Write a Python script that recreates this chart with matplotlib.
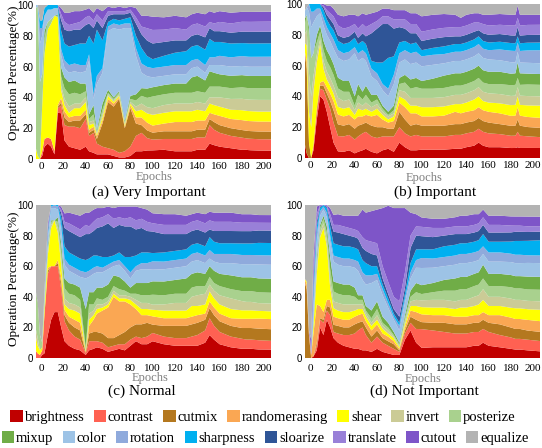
import numpy as np
import matplotlib
matplotlib.use('Agg')
import matplotlib.pyplot as plt
from matplotlib.patches import Patch
from matplotlib.font_manager import FontProperties

SERIF = 'Liberation Serif'
SANS = 'Liberation Sans'

epochs = [-5, -3, -1, 1, 3, 6, 9, 12, 15, 18,
          21, 25, 30, 35, 40, 43, 47, 50, 55, 60,
          65, 70, 75, 80, 85, 90, 95, 100, 110, 120,
          130, 135, 140, 147, 151, 155, 160, 170, 180, 184,
          186, 188, 195, 207]

ops = ['brightness', 'contrast', 'cutmix', 'randomerasing', 'shear', 'invert', 'posterize',
       'mixup', 'color', 'rotation', 'sharpness', 'sloarize', 'translate', 'cutout', 'equalize']
colors = ['#C00000', '#FF6152', '#B4781F', '#FAA753', '#FFFF00', '#CBCB96', '#A9D18E',
          '#70AD47', '#9DC3E6', '#8FAADC', '#00B0F0', '#2F5597', '#9980D8', '#7E55C8', '#B3B3B3']

x_ticks = [0, 20, 40, 60, 80, 100, 120, 140, 160, 180, 200]
y_ticks = [0, 20, 40, 60, 80, 100]
titles = ['(a) Very Important', '(b) Important', '(c) Normal', '(d) Not Important']

# ---------------- (a) Very Important ----------------
a_brightness = [0, 0, 0, 2, 8, 10, 8, 3, 30, 30, 12, 8, 7, 6, 8, 5, 4, 3, 3, 3, 2, 1, 1, 2, 5, 5, 5.5, 5.6, 6, 5, 5, 5, 6, 6, 10, 9, 8, 7, 6, 6, 5.8, 5.7, 5.5, 5.4]
a_contrast = [0, 0, 0, 3, 5, 4, 5, 2, 3, 5, 10, 13, 14, 14, 18, 10, 13, 7, 5, 4, 4, 3, 4, 6, 10, 12, 8, 7, 7, 8, 8, 8, 8, 8, 12, 10, 9, 8, 8, 7.5, 7.5, 7.5, 7.4, 7.4]
a_cutmix = [0, 0, 0, 0, 0, 0, 0, 0, 1, 2, 5, 3, 4, 5, 3, 2, 2, 3, 15, 30, 28, 35, 15, 25, 8, 5, 5, 4.5, 5, 5, 5, 5, 5, 5, 4, 5, 5, 5, 5, 5, 5, 5, 5, 5]
a_randomerasing = [0, 0, 0, 0, 0, 0, 0, 0, 1, 3, 4, 3, 3, 3, 3, 2, 2, 2, 2, 2, 2, 1, 1, 2, 4, 5, 5, 4.6, 5, 6, 6, 6, 6, 6, 4, 5, 6, 6, 6.5, 6.5, 6.5, 6.5, 6.5, 6.5]
a_shear = [8, 2, 0, 30, 55, 70, 75, 88, 57, 5, 4, 3, 5, 5, 5, 3, 2, 1, 2, 2, 1, 1, 1, 1, 4, 5, 6, 7, 7, 7, 7, 7, 7, 6, 6, 6, 6, 6, 6.5, 6.5, 6.5, 6.5, 6.5, 6.5]
a_invert = [0, 0, 0, 0, 0, 0, 0, 0, 0, 3, 4, 4, 3, 3, 3, 2, 2, 1, 2, 1, 1, 1, 1, 1, 3, 4, 4, 4.3, 5, 5, 5, 5, 5, 5, 4, 5, 6, 7, 7.5, 7.5, 7.5, 7.5, 7.6, 7.6]
a_posterize = [90, 97, 50, 20, 10, 5, 3, 0, 1, 6, 7, 8, 7, 6, 4, 2, 4, 1, 3, 1, 1, 1, 1, 2, 4, 5, 6, 7.6, 7, 7, 7, 7, 7, 7, 7, 7, 7, 7, 7.5, 7.5, 7.5, 7.5, 7.6, 7.6]
a_mixup = [0, 0, 0, 0, 5, 0, 0, 0, 1, 6, 7, 8, 8, 7, 5, 3, 6, 1, 4, 2, 1, 1, 1, 2, 4, 5, 6, 6, 6, 6, 6, 10, 10, 8, 10, 9, 8, 8, 8, 8, 8, 8, 8, 8]
a_color = [2, 1, 25, 25, 10, 8, 6, 5, 4, 8, 6, 6, 6, 7, 8, 35, 4, 30, 20, 38, 45, 40, 60, 44, 25, 10, 8, 6.4, 6, 6, 6, 6, 6, 5, 4, 5, 6, 6, 6, 6, 6, 6, 6, 6]
a_rotation = [0, 0, 10, 5, 0, 0, 0, 0, 0, 4, 5, 5, 5, 5, 4, 4, 3, 5, 3, 3, 3, 3, 3, 3, 5, 6, 6, 6, 6, 6, 6, 5, 5, 5, 5, 5, 6, 6, 6.5, 6.5, 6.5, 6.5, 6.5, 6.5]
a_sharpness = [0, 0, 5, 5, 5, 3, 3, 2, 2, 12, 11, 12, 12, 14, 14, 12, 33, 30, 18, 3, 3, 3, 3, 4, 8, 10, 7, 5.8, 7, 8, 9, 9, 9, 10, 12, 10, 9, 9, 8.5, 8.7, 8.7, 8.7, 8.7, 8.7]
a_sloarize = [0, 0, 0, 0, 0, 0, 0, 0, 0, 7, 9, 10, 10, 9, 12, 8, 10, 6, 8, 4, 3, 4, 3, 3, 8, 9, 10, 10.2, 9, 8, 7, 7, 7, 8, 7, 7, 7, 7, 7.5, 7.5, 7.6, 7.6, 7.6, 7.6]
a_translate = [0, 0, 0, 0, 0, 0, 0, 0, 0, 4, 5, 4, 4, 5, 5, 5, 5, 4, 5, 3, 2, 2, 2, 2, 4, 5, 8, 8.8, 8, 8, 7, 7, 7, 7, 4, 5, 6, 6, 6.5, 6.5, 6.5, 6.5, 6.5, 6.5]
a_cutout = [0, 0, 0, 0, 0, 0, 0, 0, 0, 4, 6, 8, 8, 7, 5, 5, 5, 4, 6, 3, 2, 3, 2, 2, 6, 7, 8, 8.6, 8, 8, 8, 7, 7, 8, 7, 7, 7, 7, 6.5, 6.5, 6.5, 6.5, 6.5, 6.5]
a_equalize = [0, 0, 10, 10, 2, 0, 0, 0, 0, 2, 5, 5, 4, 4, 3, 2, 5, 2, 4, 1, 2, 1, 2, 1, 2, 7, 7, 7.6, 8, 7, 8, 6, 5, 6, 4, 5, 4, 5, 4.5, 4.5, 4.5, 4.5, 4.4, 4.3]

# ---------------- (b) Important ----------------
b_brightness = [10, 3, 0, 0, 5, 25, 40, 38, 30, 20, 10, 4.3, 4, 5, 3, 4, 5, 6, 4, 3, 5, 6, 4, 10, 7, 5, 5, 5.4, 5.4, 5.4, 6, 6, 7, 8, 10, 8, 7, 7, 6.5, 6.5, 7, 6.5, 6.5, 6.5]
b_contrast = [0, 0, 0, 0, 3, 5, 5, 6, 8, 12, 13, 10, 10, 10, 9, 10, 11, 11, 10, 10, 9, 8, 10, 10, 9, 9, 10, 8.6, 8.6, 8.6, 9, 9, 9, 9, 9, 9, 9, 8.5, 8, 8, 10, 8, 7.5, 7]
b_cutmix = [60, 55, 10, 0, 0, 2, 2, 3, 4, 5, 8, 7.6, 7, 7, 7, 7, 6, 6, 7, 7, 6, 5, 5, 10, 9, 7, 7, 7, 7, 7, 7, 7, 7, 7, 7, 7, 7, 6.5, 6.5, 6.5, 8, 6.5, 6, 6]
b_randomerasing = [0, 5, 0, 0, 0, 0, 2, 3, 4, 5, 6, 6.4, 6, 6, 6, 6, 5, 5, 6, 8, 5, 4, 5, 6, 8, 8, 7, 6, 6, 6.5, 8, 7, 7, 7, 7, 7, 7, 7, 6.5, 6.5, 8, 6.5, 6.5, 6.5]
b_shear = [5, 10, 20, 20, 35, 30, 25, 8, 5, 5, 5, 5, 5, 5, 3, 5, 4, 4, 3, 4, 3, 2, 3, 4, 5, 5, 5, 6, 6, 6, 5, 6, 6, 7, 7, 6, 6, 6.5, 7, 7, 7, 7, 7.5, 8]
b_invert = [5, 10, 25, 20, 10, 5, 3, 5, 5, 5, 5, 6, 5, 5, 3, 4, 3, 4, 3, 3, 2, 2, 2, 4, 5, 5, 5, 6, 6, 6, 6, 6, 6, 6, 6, 6, 6, 6, 6, 6, 6, 6, 6, 6]
b_posterize = [5, 10, 25, 25, 15, 8, 5, 7, 7, 7, 7, 6, 6, 5, 3, 5, 4, 5, 3, 3, 2, 1, 2, 4, 6, 6, 7, 6, 6, 6, 6, 6, 6, 6, 6, 6, 6, 6.5, 7, 7, 6, 7, 7.5, 7.5]
b_mixup = [5, 0, 5, 0, 0, 5, 4, 6, 7, 7, 7, 7, 7, 7, 6, 7, 5, 6, 5, 3, 2, 2, 3, 4, 5, 6, 6, 5, 6.5, 8, 8, 8, 8, 8, 8, 8, 8, 8, 7.5, 7.5, 10, 7.5, 7, 7]
b_color = [5, 5, 10, 20, 20, 12, 8, 10, 10, 10, 10, 13, 13, 14, 28, 15, 22, 16, 12, 9, 10, 10, 14, 10, 10, 10, 10, 9.5, 9, 8, 8, 8, 8, 8, 8, 8, 8, 7.5, 7.5, 7, 7, 7, 7, 7]
b_rotation = [0, 0, 5, 10, 7, 5, 3, 5, 5, 5, 6, 5, 5, 5, 4, 5, 5, 5, 5, 5, 4, 5, 6, 6, 6, 7, 7, 6.5, 6.5, 6, 6, 6, 6, 6, 6, 6, 6, 7, 7.5, 7.5, 6, 7.5, 8, 8.5]
b_sharpness = [0, 0, 0, 5, 5, 3, 3, 5, 5, 5, 6, 6, 6, 6, 6, 6, 6, 6, 5, 7, 14, 20, 12, 7, 6, 6, 6, 4, 4.5, 5, 5, 5, 5, 5, 5, 5, 5, 5, 5, 5, 4, 5, 5, 5]
b_sloarize = [0, 0, 0, 0, 0, 0, 0, 2, 3, 4, 4, 3.6, 4, 4, 4, 4, 5, 5, 18, 22, 25, 22, 18, 10, 8, 7, 6, 6, 6, 6, 5, 5, 5, 5, 4, 5, 5, 5, 5, 5, 6, 5, 5, 5]
b_translate = [0, 0, 0, 0, 0, 0, 0, 1, 3, 4, 5, 6.4, 6, 6, 5, 6, 6, 6, 6, 5, 5, 5, 6, 5, 6, 6, 6, 6, 6, 6, 6, 6, 6, 6, 5, 6, 6, 6, 6.5, 6.5, 6, 6.5, 6.5, 6.5]
b_cutout = [0, 0, 0, 0, 0, 0, 0, 1, 3, 5, 5, 7, 8, 8, 6, 8, 7, 8, 7, 6, 5, 5, 6, 6, 6, 7, 7, 10, 9.5, 9, 8, 6, 7, 6, 6, 6, 7, 7, 7, 7, 8, 7, 6.5, 6.5]
b_equalize = [5, 2, 0, 0, 0, 0, 0, 0, 1, 1, 3, 7, 8, 7, 7, 8, 6, 7, 6, 5, 3, 3, 4, 4, 4, 6, 6, 8, 7, 6.5, 7, 9, 7, 6, 6, 7, 7, 6.5, 7, 7, 1, 7, 7, 7]

# ---------------- (c) Normal ----------------
c_brightness = [0, 0, 0, 2, 3, 15, 25, 30, 30, 20, 11, 8, 6, 5, 2, 5, 6, 7, 6, 4, 5, 6, 5, 8, 11, 9, 9, 10.9, 9, 8, 8, 8, 8, 10, 15, 12, 9, 7, 6, 6, 6, 6, 5.5, 5.4]
c_contrast = [5, 3, 2, 3, 25, 40, 35, 30, 30, 25, 13, 10, 8, 7, 1, 6, 5, 4, 4, 3, 3, 3, 4, 4, 3, 4, 5, 5.4, 5, 5, 5, 6, 7, 8, 11, 9, 8, 7, 6.5, 6, 6, 6, 6, 5.6]
c_cutmix = [0, 0, 0, 0, 0, 2, 0, 0, 2, 4, 4, 5, 6, 6, 0.5, 5, 6, 6, 6, 6, 5, 6, 8, 8, 8, 9, 9, 5.4, 7, 8, 8, 8, 8, 7, 6.6, 7, 7, 7, 7, 7.5, 7.5, 7.5, 7.5, 7.5]
c_randomerasing = [0, 0, 0, 0, 0, 2, 0, 0, 2, 4, 3.5, 4, 5, 5, 0.5, 5, 8, 12, 15, 20, 27, 22, 20, 15, 10, 6, 5, 5.4, 5, 5, 5, 5, 5, 4, 4.4, 5, 5, 5, 6, 6, 6, 6, 6.5, 6.5]
c_shear = [10, 5, 3, 2, 5, 8, 25, 30, 18, 8, 3.5, 5, 6, 6, 0.5, 4, 3, 3, 2, 2, 2, 2, 2, 3, 3, 4, 4, 4.3, 5, 5, 5, 7, 6, 6, 6.5, 6, 6, 6, 5.5, 5.5, 5.5, 5.5, 5, 5]
c_invert = [5, 5, 0, 0, 0, 2, 2, 0, 3, 4, 4, 4, 4, 4, 0.5, 4, 3, 3, 2, 2, 2, 2, 2, 2, 3, 4, 4, 3.3, 4, 5, 5, 6, 7, 7, 4.5, 5, 6, 7, 6, 5.5, 5.5, 5.5, 5, 5]
c_posterize = [25, 20, 10, 3, 5, 3, 2, 0, 4, 5, 6.6, 6, 6, 5, 2, 6, 4, 4, 3, 3, 3, 4, 3, 2, 4, 5, 5, 6.5, 6, 6, 6, 6, 6, 5, 5, 5, 6, 6, 6.5, 7, 7, 7, 7, 7]
c_mixup = [0, 3, 0, 0, 0, 2, 1, 0, 3, 5, 6.4, 7, 7, 8, 25, 8, 8, 7, 8, 8, 7, 8, 6, 4, 7, 8, 8, 8.7, 9, 9, 10, 9, 9, 8, 7, 8, 8, 9, 9, 9, 9, 9, 9, 9]
c_color = [0, 0, 0, 0, 5, 4, 8, 8, 5, 8, 9, 8, 7, 7, 20, 10, 12, 10, 10, 10, 6, 8, 7, 6, 8, 9, 9, 7.6, 8, 8, 8, 8, 8, 7, 5, 6, 7, 8, 8.5, 8.5, 8.5, 8.5, 9, 9]
c_rotation = [0, 0, 0, 0, 0, 2, 1, 2, 2, 4, 4, 4, 4, 4, 4, 4, 4, 4, 3, 3, 3, 3, 3, 4, 3, 4, 4, 5.4, 5, 5, 5, 5, 5, 5, 5.6, 5, 6, 6, 6, 6, 6, 6, 6, 6]
c_sharpness = [0, 0, 0, 0, 0, 2, 1, 0, 1, 5, 8, 8, 8, 8, 8, 8, 8, 7, 7, 5, 4, 5, 6, 10, 7, 7, 7, 5.4, 6, 6, 6, 6, 6, 6, 8.4, 8, 7, 7, 7.5, 7.5, 7.5, 7.5, 8, 8]
c_sloarize = [0, 0, 0, 0, 0, 2, 0, 0, 0, 3, 12, 14, 14, 14, 17, 16, 16, 18, 20, 22, 18, 18, 20, 20, 17, 16, 14, 14, 12, 11, 10, 9, 9, 9, 5, 7, 8, 8, 8, 8, 8, 8, 8, 8]
c_translate = [0, 0, 0, 0, 0, 2, 0, 0, 0, 2, 4, 5, 5, 5, 6, 5, 6, 6, 6, 6, 6, 5, 5, 6, 6, 6, 6, 5.4, 6, 6, 6, 6, 6, 6, 6, 6, 6, 6, 5.5, 5.5, 5.5, 5.5, 5, 5]
c_cutout = [0, 0, 0, 0, 0, 2, 0, 0, 0, 2, 5.5, 7, 8, 9, 8, 9, 8, 7, 6, 5, 7, 7, 8, 7, 9, 7, 8, 6.5, 7, 7, 6, 5, 5, 6, 5.6, 6, 6, 6, 5.5, 5.5, 5.5, 5.5, 5, 5]
c_equalize = [55, 64, 85, 90, 57, 12, 0, 0, 0, 1, 5.5, 5, 6, 7, 5, 5, 3, 2, 2, 1, 2, 1, 1, 1, 1, 2, 3, 5.4, 6, 6, 7, 6, 5, 6, 4.4, 5, 5, 5, 6, 6, 6, 6, 6.5, 6.5]

# ---------------- (d) Not Important ----------------
d_brightness = [0, 0, 0, 0, 1, 5, 20, 15, 25, 20, 13, 10, 8, 7, 6, 6, 5, 5, 4, 6, 4, 3, 2, 2, 12, 18, 10, 6.5, 7, 7, 7, 7, 7, 8, 8, 10, 8, 7, 6, 5.5, 5.5, 5.5, 5, 4.3]
d_contrast = [0, 0, 0, 0, 0, 3, 5, 8, 6, 8, 4, 6, 7, 8, 10, 12, 15, 10, 6, 8, 6, 5, 4, 2, 4, 5, 9, 12, 11, 10, 9, 9, 9, 9, 9, 9, 9, 8, 7.5, 7, 7, 7, 7, 6.7]
d_cutmix = [50, 45, 15, 0, 0, 2, 1, 2, 3, 5, 4.7, 5, 5, 5, 6, 5, 4, 5, 4, 4, 3, 3, 3, 1, 2, 4, 6, 4.5, 5, 6, 6, 6, 6, 6, 6, 6, 6, 7, 6.5, 6.5, 6.5, 6.5, 6, 6]
d_randomerasing = [2, 3, 3, 2, 15, 25, 8, 5, 4, 5, 5.3, 5, 5, 5, 5, 5, 5, 4, 4, 4, 3, 3, 2, 1, 2, 4, 5, 5, 5, 5, 5, 5, 5, 5, 5, 5, 5, 6, 6.5, 6.5, 6.5, 6.5, 7, 7]
d_shear = [0, 2, 0, 0, 5, 20, 45, 55, 35, 8, 5.6, 5, 5, 5, 4, 4, 3, 3, 3, 3, 3, 2, 2, 1, 2, 3, 4, 4.6, 5, 5, 5, 6, 6, 6, 7, 8, 6, 6, 6.5, 7, 7, 7, 7, 7.5]
d_invert = [0, 0, 0, 0, 0, 3, 3, 3, 4, 5, 4.4, 5, 5, 5, 4, 3, 3, 2, 2, 3, 2, 2, 1, 1, 2, 3, 4, 4.4, 5, 5, 5, 5, 5, 6, 6, 7, 6, 6, 6, 5.5, 5.5, 5.5, 5.5, 5.5]
d_posterize = [0, 0, 0, 0, 3, 5, 3, 3, 5, 7, 6.5, 6, 6, 6, 5, 3, 3, 2, 3, 4, 2, 2, 1, 1, 2, 3, 5, 4, 5, 6, 7, 7, 7, 7, 7, 7, 7, 7, 7.5, 7.5, 7.5, 7.5, 7.5, 7.6]
d_mixup = [0, 0, 0, 0, 0, 3, 2, 2, 4, 8, 6.5, 7, 7, 7, 6, 3, 3, 3, 5, 5, 4, 3, 2, 1, 2, 4, 6, 5.7, 6, 7, 8, 8, 8, 8, 8, 9, 8, 8, 8, 8, 8, 8, 8.4, 8.4]
d_color = [0, 0, 0, 0, 10, 10, 6, 4, 6, 10, 13, 12, 12, 12, 13, 16, 10, 14, 18, 14, 14, 10, 8, 8, 8, 8, 10, 11, 10, 9, 9, 9, 9, 8, 8, 7, 8, 8, 8.5, 8.5, 8.5, 8.5, 9, 9]
d_rotation = [0, 0, 0, 0, 8, 5, 3, 2, 3, 4, 4, 5, 5, 5, 5, 6, 5, 6, 5, 4, 4, 3, 2, 3, 3, 4, 5, 6.4, 6, 6, 6, 6, 6, 6, 6, 5, 6, 6, 5.5, 5.5, 5.5, 5.5, 5, 5]
d_sharpness = [0, 0, 0, 0, 5, 5, 2, 1, 3, 6, 8, 8, 8, 8, 8, 8, 8, 8, 6, 5, 3, 3, 2, 2, 3, 6, 7, 5.6, 6, 7, 7, 7, 7, 7, 7, 8, 7, 7, 8, 9, 9, 9, 9.5, 10]
d_sloarize = [0, 0, 0, 0, 3, 3, 1, 0, 1, 4, 7.6, 8, 8, 7, 7, 7, 8, 8, 8, 7, 4, 3, 3, 4, 4, 10, 9, 8.4, 8, 7, 7, 6, 6, 6, 6, 6, 6, 6, 6, 6, 6, 6, 5.8, 5.6]
d_translate = [0, 0, 0, 5, 8, 5, 1, 0, 1, 4, 4.4, 5, 5, 5, 5, 5, 7, 7, 8, 8, 8, 8, 8, 10, 10, 8, 6, 6, 6, 5, 5, 5, 5, 5, 5, 5, 5, 5, 4.5, 4, 4, 4, 3.7, 3.4]
d_cutout = [0, 0, 0, 5, 8, 5, 0, 0, 0, 4, 6.5, 7, 7, 8, 9, 10, 18, 18, 20, 22, 38, 50, 58, 61, 42, 15, 8, 6, 6, 6, 6, 7, 7, 7, 6, 5, 6, 6, 6, 6, 6, 6, 6.4, 6.4]
d_equalize = [48, 50, 82, 88, 34, 1, 0, 0, 0, 2, 6.5, 6, 7, 7, 7, 7, 3, 5, 4, 3, 2, 0.5, 2, 2, 2, 5, 6, 8, 9, 9, 8, 7, 7, 6, 6, 3, 7, 7, 7.5, 7.5, 7.5, 7.5, 7.6, 7.6]

panel_a = [a_brightness, a_contrast, a_cutmix, a_randomerasing, a_shear, a_invert, a_posterize,
           a_mixup, a_color, a_rotation, a_sharpness, a_sloarize, a_translate, a_cutout, a_equalize]
panel_b = [b_brightness, b_contrast, b_cutmix, b_randomerasing, b_shear, b_invert, b_posterize,
           b_mixup, b_color, b_rotation, b_sharpness, b_sloarize, b_translate, b_cutout, b_equalize]
panel_c = [c_brightness, c_contrast, c_cutmix, c_randomerasing, c_shear, c_invert, c_posterize,
           c_mixup, c_color, c_rotation, c_sharpness, c_sloarize, c_translate, c_cutout, c_equalize]
panel_d = [d_brightness, d_contrast, d_cutmix, d_randomerasing, d_shear, d_invert, d_posterize,
           d_mixup, d_color, d_rotation, d_sharpness, d_sloarize, d_translate, d_cutout, d_equalize]

for pname, pan in zip('abcd', [panel_a, panel_b, panel_c, panel_d]):
    for oname, s in zip(ops, pan):
        assert len(s) == len(epochs), f'{pname}_{oname} has {len(s)}'

W, H = 542, 448
fig = plt.figure(figsize=(W / 100, H / 100), dpi=100)

# axes rectangles in pixels: left, top, width, height
rects = [(35.5, 5, 235.5, 154), (304.5, 4, 235.5, 154),
         (35.5, 205, 235.5, 153), (304.5, 205, 235.5, 153)]
xpads = [2.5, 2.5, 4.5, 4.5]
title_pos = [(149, 192), (435, 192), (142, 391), (424, 391)]
epochs_pos = [(154, 177), (424, 178), (150, 378), (423, 379)]

for k, (pan, rect) in enumerate(zip([panel_a, panel_b, panel_c, panel_d], rects)):
    l, t, w, h = rect
    ax = fig.add_axes([l / W, 1 - (t + h) / H, w / W, h / H])
    arr = np.array(pan, dtype=float)
    arr = arr / arr.sum(axis=0) * 100.0
    ax.stackplot(epochs, arr, colors=colors, linewidth=0)
    ax.set_xlim(-5, 206)
    ax.set_ylim(0, 100)
    for sp in ax.spines.values():
        sp.set_visible(False)
    ax.set_xticks(x_ticks)
    ax.set_yticks(y_ticks)
    ax.set_xticklabels([str(v) for v in x_ticks], fontfamily=SERIF, fontsize=8)
    ax.set_yticklabels([str(v) for v in y_ticks], fontfamily=SANS, fontsize=7)
    ax.tick_params(axis='both', length=0)
    ax.tick_params(axis='x', pad=xpads[k])
    ax.tick_params(axis='y', pad=1.5)
    tx, ty = title_pos[k]
    fig.text(tx / W, 1 - ty / H, titles[k], ha='center', va='center',
             fontfamily=SERIF, fontsize=11)
    ex, ey = epochs_pos[k]
    fig.text(ex / W, 1 - ey / H, 'Epochs', ha='center', va='center',
             fontfamily=SERIF, fontsize=9, color='#808080')

for yc in (73, 279):
    fig.text(14 / W, 1 - yc / H, 'Operation Percentage(%)', rotation=90,
             ha='center', va='center', fontfamily=SERIF, fontsize=9.5)

handles = [Patch(facecolor=c, edgecolor='none', label=o) for o, c in zip(ops, colors)]
leg_kw = dict(loc='center', frameon=False, handlelength=0.85,
              handleheight=0.85, handletextpad=0.12, columnspacing=0.65,
              borderpad=0, borderaxespad=0,
              prop=FontProperties(family=SERIF, size=10.5))
leg1 = fig.legend(handles=handles[:7], ncol=7, bbox_to_anchor=(263 / W, 1 - 417 / H), **leg_kw)
leg2 = fig.legend(handles=handles[7:], ncol=8, bbox_to_anchor=(265 / W, 1 - 438 / H), **leg_kw)
for lg in (leg1, leg2):
    for t in lg.get_texts():
        t.set_fontfamily(SERIF)
        t.set_fontsize(10.5)

fig.savefig('out.png', dpi=100)
